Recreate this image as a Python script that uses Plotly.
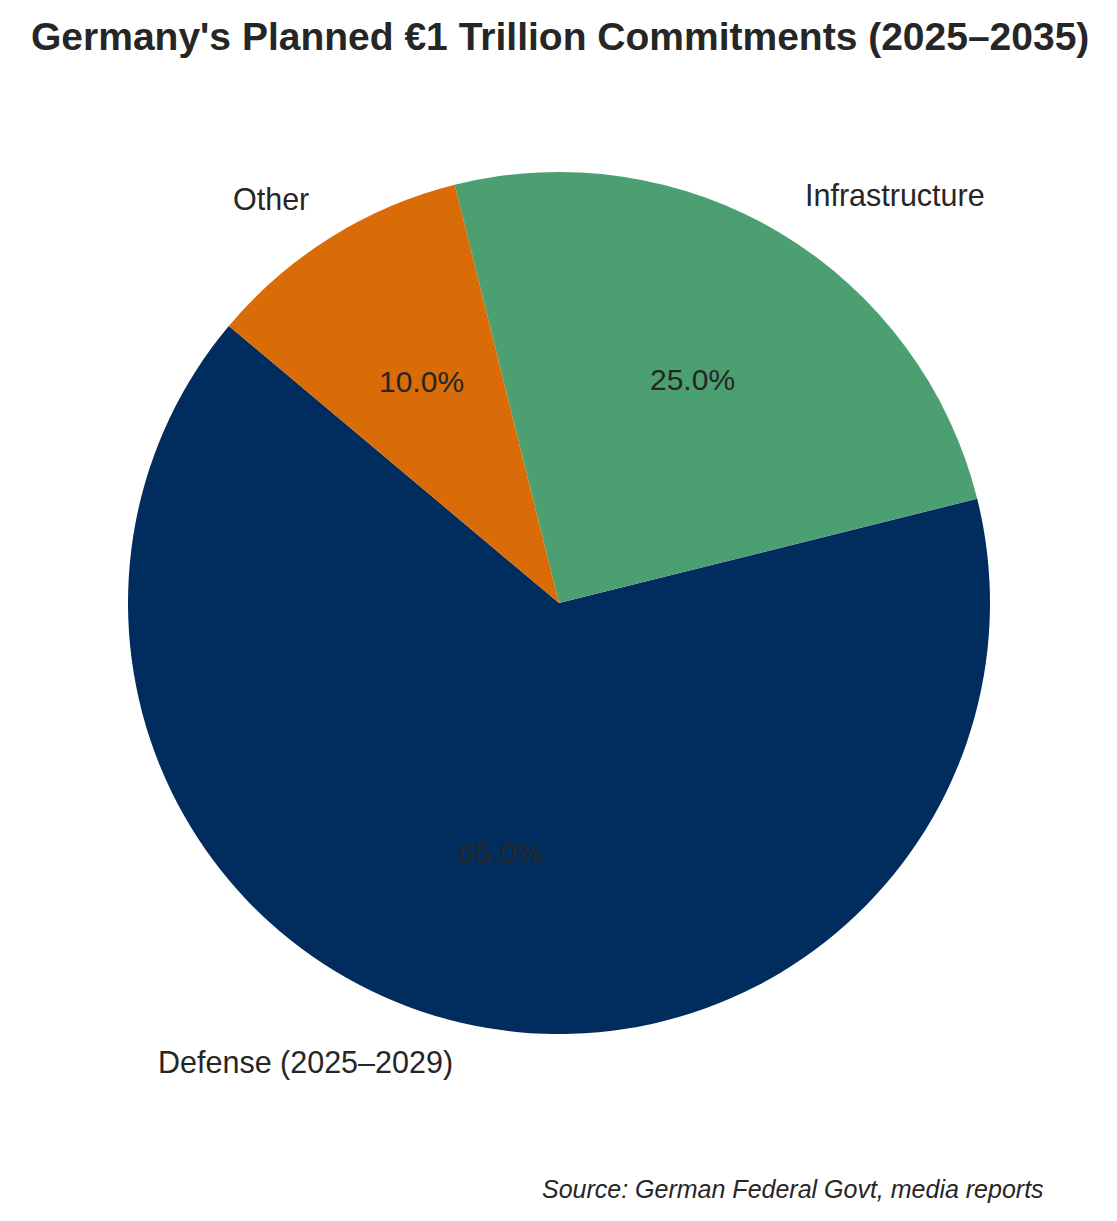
import math
import plotly.graph_objects as go

labels = ["Defense (2025–2029)", "Infrastructure", "Other"]
values = [65, 25, 10]
colors = ["#002D5E", "#4C9F70", "#D96C06"]
title_text = "Germany's Planned €1 Trillion Commitments (2025–2035)"
source_text = "Source: German Federal Govt, media reports"

W, H = 1117, 1221
cx, cy, r = 559, 603, 431
start_angle = 140  # degrees, counter-clockwise from 3 o'clock

FONT = "Liberation Sans, Arial, sans-serif"
TXT = "#262626"

total = sum(values)
first_span = 360 * values[0] / total
# plotly (counterclockwise) puts the end of the first slice at the rotation angle
rotation = 90 - (start_angle + first_span)
rotation = ((rotation + 360) % 720) - 360

fig = go.Figure(go.Pie(
    labels=labels, values=values, sort=False,
    direction="counterclockwise", rotation=rotation,
    marker=dict(colors=colors, line=dict(width=0)),
    textinfo="none", hoverinfo="label+percent", showlegend=False,
    domain=dict(x=[(cx - r) / W, (cx + r) / W], y=[1 - (cy + r) / H, 1 - (cy - r) / H]),
))

ann = []
a0 = start_angle
for lab, v in zip(labels, values):
    span = 360 * v / total
    mid = math.radians(a0 + span / 2)
    a0 += span
    lx = cx + 1.1 * r * math.cos(mid)
    ly = cy - 1.1 * r * math.sin(mid)
    right = math.cos(mid) > 0
    ann.append(dict(x=lx / W, y=1 - ly / H, xref="paper", yref="paper", text=lab, showarrow=False,
                    xanchor="left" if right else "right", yanchor="middle",
                    xshift=0 if right else 3, yshift=2,
                    font=dict(family=FONT, size=30.5, color=TXT)))
    px = cx + 0.6 * r * math.cos(mid)
    py = cy - 0.6 * r * math.sin(mid)
    ann.append(dict(x=px / W, y=1 - py / H, xref="paper", yref="paper", text=f"{100 * v / total:.1f}%",
                    showarrow=False, xanchor="center", yanchor="middle", yshift=2,
                    font=dict(family=FONT, size=30, color=TXT)))

ann.append(dict(x=560 / W, y=1 - 36 / H, xref="paper", yref="paper", text=f"<b>{title_text}</b>",
                showarrow=False, xanchor="center", yanchor="middle",
                font=dict(family=FONT, size=39, color=TXT)))
ann.append(dict(x=1046 / W, y=1 - 1189 / H, xref="paper", yref="paper", text=f"<i>{source_text}</i>",
                showarrow=False, xanchor="right", yanchor="middle",
                font=dict(family=FONT, size=25, color=TXT)))

fig.update_layout(width=W, height=H, margin=dict(l=0, r=0, t=0, b=0),
                  paper_bgcolor="white", plot_bgcolor="white", annotations=ann)
fig.write_html("out.html")
